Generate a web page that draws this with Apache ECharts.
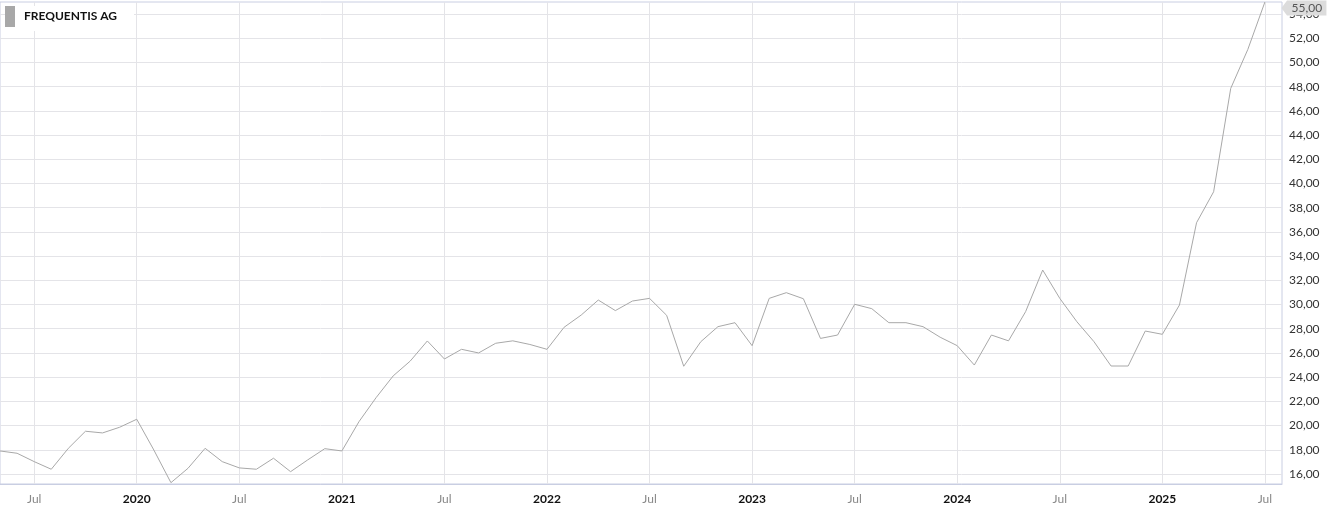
<!DOCTYPE html>
<html>
<head>
<meta charset="utf-8">
<script src="https://cdn.jsdelivr.net/npm/echarts@6/dist/echarts.min.js"></script>
<style>
html,body{margin:0;padding:0;background:#fff;}
#c{width:1331px;height:510px;}
</style>
</head>
<body>
<div id="c"></div>
<script>
// Monthly categories May 2019 .. Aug 2025 (last one empty, axis extends past last point)
const months = [
 '2019-05','2019-06','2019-07','2019-08','2019-09','2019-10','2019-11','2019-12',
 '2020-01','2020-02','2020-03','2020-04','2020-05','2020-06','2020-07','2020-08','2020-09','2020-10','2020-11','2020-12',
 '2021-01','2021-02','2021-03','2021-04','2021-05','2021-06','2021-07','2021-08','2021-09','2021-10','2021-11','2021-12',
 '2022-01','2022-02','2022-03','2022-04','2022-05','2022-06','2022-07','2022-08','2022-09','2022-10','2022-11','2022-12',
 '2023-01','2023-02','2023-03','2023-04','2023-05','2023-06','2023-07','2023-08','2023-09','2023-10','2023-11','2023-12',
 '2024-01','2024-02','2024-03','2024-04','2024-05','2024-06','2024-07','2024-08','2024-09','2024-10','2024-11','2024-12',
 '2025-01','2025-02','2025-03','2025-04','2025-05','2025-06','2025-07','2025-08'
];
const prices = [
 17.90,17.71,17.02,16.39,18.12,19.53,19.39,19.86,
 20.52,17.98,15.28,16.47,18.12,17.02,16.50,16.39,17.30,16.19,17.16,18.09,
 17.90,20.32,22.30,24.10,25.33,26.99,25.50,26.30,26.00,26.80,27.00,26.70,
 26.30,28.12,29.13,30.37,29.50,30.29,30.51,29.11,24.90,26.93,28.17,28.50,
 26.60,30.51,30.98,30.48,27.20,27.48,30.02,29.66,28.50,28.50,28.17,27.30,
 26.60,25.00,27.48,27.00,29.41,32.85,30.51,28.58,26.93,24.92,24.92,27.81,
 27.54,29.96,36.76,39.32,47.86,51.08,55.00,null
];
const seriesName = 'FREQUENTIS AG';
const yTickMin = 16, yTickMax = 54, yTickStep = 2;
const lastIndex = 74;
const lastValue = 55.00;

const isMajor = (v) => { const m = v.slice(5); return m === '01' || m === '07'; };
const fmtNum = (v) => v.toFixed(2).replace('.', ',');

const chart = echarts.init(document.getElementById('c'), null, {renderer:'canvas'});
const gridColor = '#e4e4e8';
const borderColor = '#c9cee2';
chart.setOption({
  animation:false,
  textStyle:{fontFamily:'Lato, "DejaVu Sans", sans-serif'},
  legend:{
    left:5, top:6, icon:'rect', itemWidth:10, itemHeight:21, itemGap:8,
    backgroundColor:'#fff', padding:[0,17,4,0],
    textStyle:{fontFamily:'Lato', fontWeight:'bold', fontSize:12, color:'#111', padding:[0,0,0,4]},
    data:[seriesName]
  },
  grid:[
    {left:0, right:49, top:2, bottom:26, show:true, borderColor:borderColor, borderWidth:1, backgroundColor:'transparent'},
    {left:0, right:49, top:14, bottom:36}
  ],
  xAxis:[
    {
      type:'category', gridIndex:0, data:months, boundaryGap:false,
      axisLine:{show:true, lineStyle:{color:borderColor}},
      axisTick:{show:false},
      axisLabel:{
        interval:(i,v)=>isMajor(v), margin:9, fontFamily:'Lato', fontSize:12,
        formatter:(v)=> v.slice(5)==='01' ? '{y|'+v.slice(0,4)+'}' : '{m|Jul}',
        rich:{y:{fontWeight:'bold', color:'#111', fontSize:12, fontFamily:'Lato'}, m:{color:'#888', fontSize:12, fontFamily:'Lato'}}
      },
      splitLine:{show:true, interval:(i,v)=>isMajor(v), lineStyle:{color:gridColor, width:1}}
    },
    {type:'value', gridIndex:1, show:false, min:0, max:1}
  ],
  yAxis:[
    {type:'value', gridIndex:0, position:'right', min:15.17, max:55, show:false, splitLine:{show:false}},
    {
      type:'value', gridIndex:1, position:'right', min:yTickMin, max:yTickMax, interval:yTickStep,
      axisLine:{show:false}, axisTick:{show:false},
      axisLabel:{margin:7, color:'#333', fontFamily:'Lato', fontSize:12, formatter:fmtNum},
      splitLine:{show:true, lineStyle:{color:gridColor, width:1}}
    }
  ],
  series:[{
    name:seriesName, type:'line', xAxisIndex:0, yAxisIndex:0, data:prices,
    showSymbol:false, symbol:'none',
    lineStyle:{color:'#a8a8a8', width:1},
    itemStyle:{color:'#a8a8a8'},
    markPoint:{
      silent:true,
      symbol:'path://M0,5 L5,0 L40,0 L40,10 L5,10 Z',
      symbolSize:[45,15], symbolKeepAspect:false,
      symbolOffset:[39,6],
      itemStyle:{color:'#dcdcdc'},
      label:{show:true, position:'inside', offset:[3,0], color:'#555', fontFamily:'Lato', fontSize:12,
        formatter:()=>fmtNum(lastValue)},
      data:[{coord:[lastIndex, lastValue]}]
    }
  }]
});
</script>
</body>
</html>
